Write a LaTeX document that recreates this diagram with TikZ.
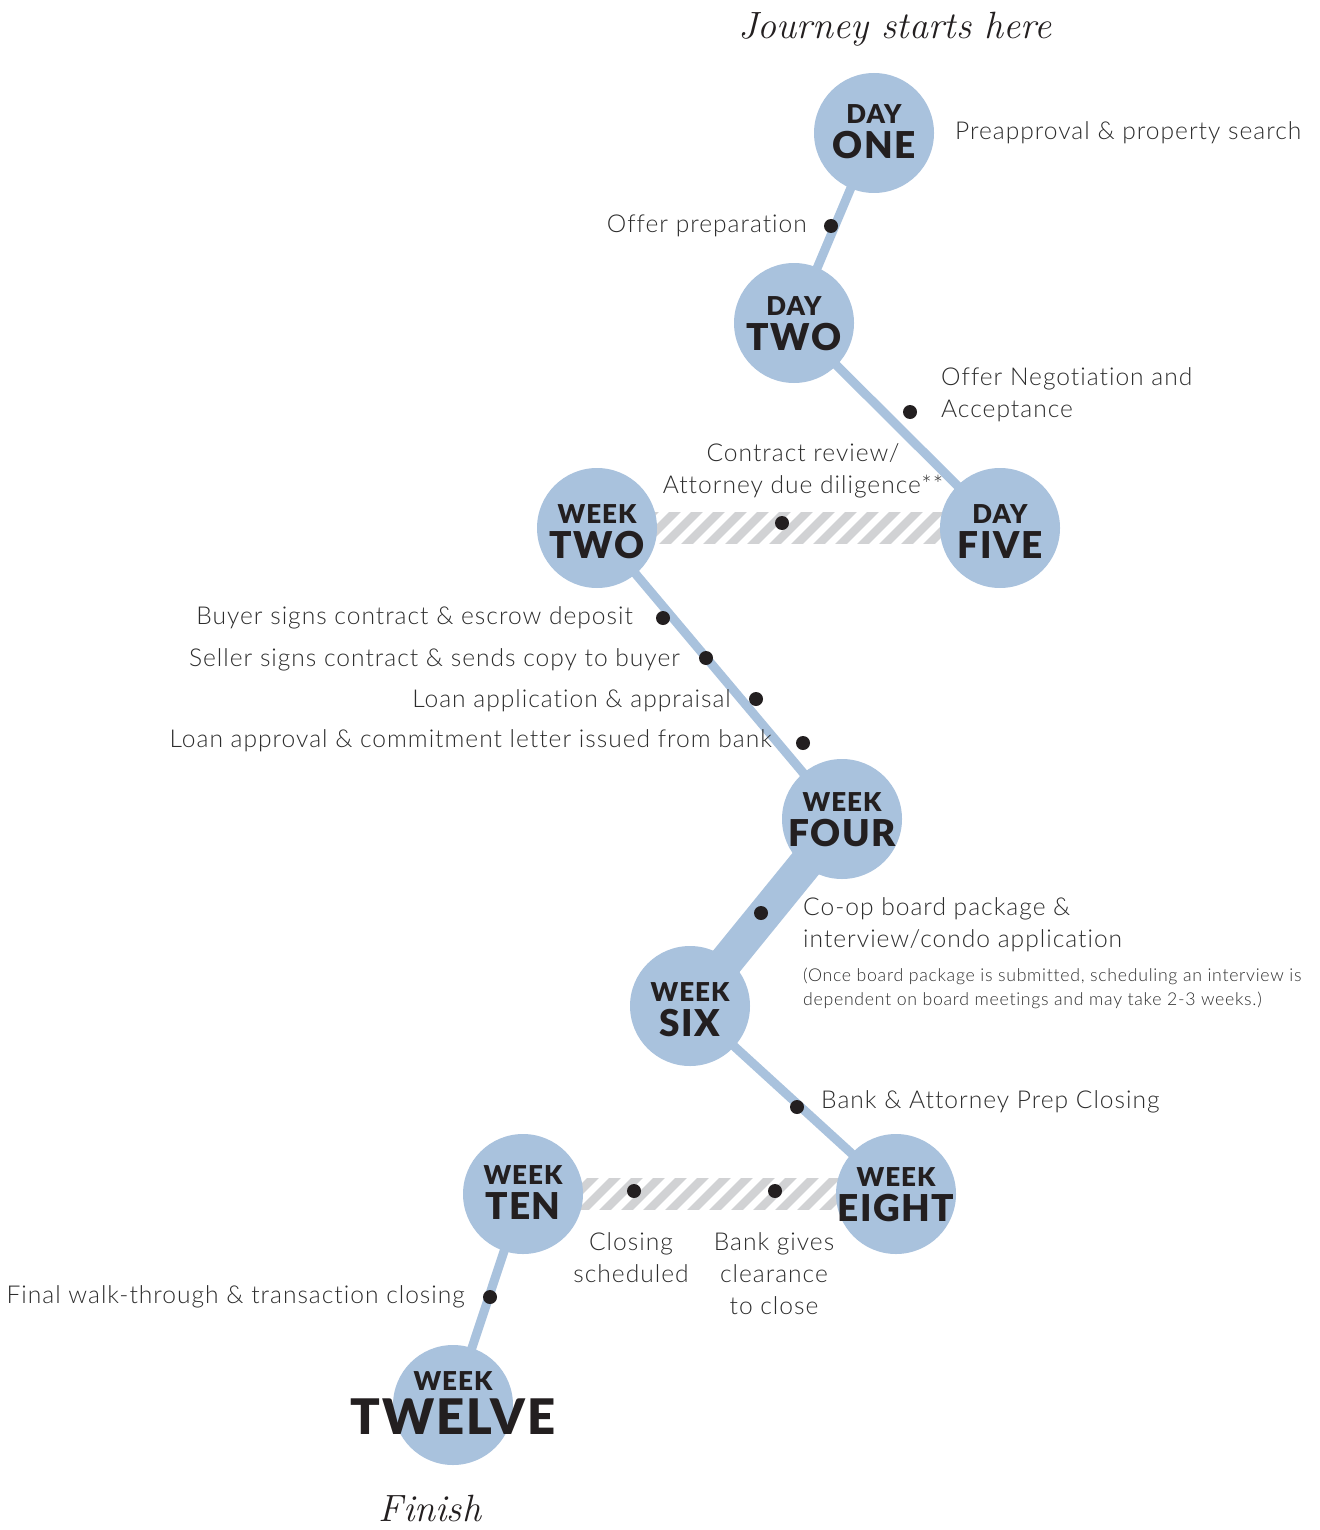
\documentclass[tikz,border=0pt]{standalone}
\usepackage{fontspec}
\newfontfamily\latolight{Lato Light}[LetterSpace=4, Ligatures=CommonOff]
\newfontfamily\latoblack{Lato Black}[LetterSpace=4]
\usetikzlibrary{calc,backgrounds}
\definecolor{stageblue}{RGB}{169,194,221}
\definecolor{hatchgray}{RGB}{209,210,212}
\definecolor{darkink}{RGB}{35,31,32}
\definecolor{textgray}{RGB}{45,45,45}
\begin{document}
\begin{tikzpicture}[x=1pt,y=-1pt,
  stagec/.style={circle, fill=stageblue, minimum size=120pt, inner sep=0pt},
  toplab/.style={font=\latoblack\fontsize{26}{26}\selectfont, text=darkink, inner sep=0pt},
  botlab/.style={font=\latoblack\fontsize{37}{37}\selectfont, text=darkink, inner sep=0pt},
  hugelab/.style={font=\latoblack\fontsize{49}{49}\selectfont, text=darkink, inner sep=0pt},
  lab/.style={font=\latolight\fontsize{24.6}{32}\selectfont, text=textgray, inner sep=0pt},
  note/.style={font=\latolight\fontsize{17.7}{24}\selectfont, text=textgray, inner sep=0pt, align=left},
  dotn/.style={circle, fill=darkink, minimum size=14pt, inner sep=0pt},
  conn/.style={draw=stageblue, line width=9pt},
  wideconn/.style={draw=stageblue, line width=34pt},
  stripe/.style={draw=white, line width=7pt},
  scriptlab/.style={font=\itshape\fontsize{38}{38}\selectfont, text=darkink, inner sep=0pt}
]
\useasboundingbox (0,0) rectangle (1319,1530);

% stages
\node[stagec] (d1) at (874,133) {};
\node[stagec] (d2) at (794,323) {};
\node[stagec] (d5) at (1000,528) {};
\node[stagec] (w2) at (597,528) {};
\node[stagec] (w4) at (842,819) {};
\node[stagec] (w6) at (690,1006) {};
\node[stagec] (w8) at (896,1194) {};
\node[stagec] (w10) at (523,1194) {};
\node[stagec] (w12) at (453,1405) {};

\begin{pgfonlayer}{background}
  \draw[conn] (d1.center) -- (d2.center);
  \draw[conn] (d2.center) -- (d5.center);
  \draw[conn] (w2.center) -- (w4.center);
  \draw[wideconn] (w4.center) -- (w6.center);
  \draw[conn] (w6.center) -- (w8.center);
  \draw[conn] (w10.center) -- (w12.center);
  \begin{scope}
    \clip ($(w2.center)+(0,16)$) rectangle ($(d5.center)+(0,-16)$);
    \fill[hatchgray] ($(w2.center)+(0,16)$) rectangle ($(d5.center)+(0,-16)$);
    \foreach \s in {560,582,...,1060} \draw[stripe] (\s-20,548) -- (\s+20,508);
  \end{scope}
  \begin{scope}
    \clip ($(w10.center)+(0,16)$) rectangle ($(w8.center)+(0,-16)$);
    \fill[hatchgray] ($(w10.center)+(0,16)$) rectangle ($(w8.center)+(0,-16)$);
    \foreach \s in {500,522,...,960} \draw[stripe] (\s-20,1214) -- (\s+20,1174);
  \end{scope}
\end{pgfonlayer}

% stage labels
\node[toplab] at ($(d1)+(0,-19)$) {DAY};
\node[botlab] at ($(d1)+(0,12)$) {ONE};
\node[toplab] at ($(d2)+(0,-17)$) {DAY};
\node[botlab] at ($(d2)+(0,14)$) {TWO};
\node[toplab] at ($(d5)+(0,-14)$) {DAY};
\node[botlab] at ($(d5)+(0,17)$) {FIVE};
\node[toplab] at ($(w2)+(0,-14)$) {WEEK};
\node[botlab] at ($(w2)+(0,17)$) {TWO};
\node[toplab] at ($(w4)+(0,-17)$) {WEEK};
\node[botlab] at ($(w4)+(0,14)$) {FOUR};
\node[toplab] at ($(w6)+(0,-14)$) {WEEK};
\node[botlab] at ($(w6)+(0,17)$) {SIX};
\node[toplab] at ($(w8)+(0,-17)$) {WEEK};
\node[botlab] at ($(w8)+(0,14)$) {EIGHT};
\node[toplab] at ($(w10)+(0,-19)$) {WEEK};
\node[botlab] at ($(w10)+(0,12)$) {TEN};
\node[toplab] at ($(w12)+(0,-24)$) {WEEK};
\node[hugelab] at ($(w12)+(0,12)$) {TWELVE};

% milestones
\node[dotn] (p1) at (831,226) {};
\node[dotn] (p2) at (910,412) {};
\node[dotn] (p3) at (782,523) {};
\node[dotn] (p4) at (663,618) {};
\node[dotn] (p5) at (706,658) {};
\node[dotn] (p6) at (756,699) {};
\node[dotn] (p7) at (803,743) {};
\node[dotn] (p8) at (761,913) {};
\node[dotn] (p9) at (797,1107) {};
\node[dotn] (p10) at (634,1191) {};
\node[dotn] (p11) at (775,1191) {};
\node[dotn] (p12) at (490,1297) {};

% texts
\node[scriptlab] (start) at (895,29) {Journey starts here};
\node[scriptlab] (finish) at (430,1508) {Finish};
\node[lab, anchor=west] (t1) at (955,133) {Preapproval \& property search};
\node[lab, anchor=east] (t2) at (807,226) {Offer preparation};
\node[lab, anchor=west, align=left] (t3) at (941,395) {Offer Negotiation and\\Acceptance};
\node[lab, align=center] (t4) at (803,471) {Contract review/\\Attorney due diligence**};
\node[lab, anchor=east] (t5) at (633,618) {Buyer signs contract \& escrow deposit};
\node[lab, anchor=east] (t6) at (680,660) {Seller signs contract \& sends copy to buyer};
\node[lab, anchor=east] (t7) at (731,701) {Loan application \& appraisal};
\node[lab, anchor=east] (t8) at (772,741) {Loan approval \& commitment letter issued from bank};
\node[lab, anchor=west, align=left] (t9) at (803,925) {Co-op board package \&\\interview/condo application};
\node[note, anchor=west] (t10) at (803,988) {(Once board package is submitted, scheduling an interview is\\dependent on board meetings and may take 2-3 weeks.)};
\node[lab, anchor=west] (t11) at (821,1102) {Bank \& Attorney Prep Closing};
\node[lab, align=center] (t12) at (631,1258) {Closing\\scheduled};
\node[lab, align=center] (t13) at (774,1274) {Bank gives\\clearance\\to close};
\node[lab, anchor=east] (t14) at (465,1297) {Final walk-through \& transaction closing};
\end{tikzpicture}
\end{document}
